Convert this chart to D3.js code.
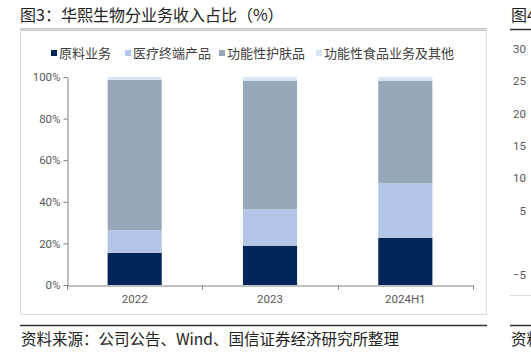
<!DOCTYPE html>
<html>
<head>
<meta charset="utf-8">
<script src="https://cdn.jsdelivr.net/npm/d3@7"></script>
<style>
  body { margin: 0; background: #fff; }
  svg { display: block; font-family: "Noto Sans CJK SC", "Noto Sans", sans-serif; }
</style>
</head>
<body>
<svg id="chart" width="531" height="352"></svg>
<script>
// dados
const categorias = ["2022", "2023", "2024H1"];
const series = ["原料业务", "医疗终端产品", "功能性护肤品", "功能性食品业务及其他"];
const rawMaterial = [15.5, 18.9, 22.7];
const medical = [10.8, 17.6, 26.3];
const skincare = [72.3, 61.7, 49.2];
const food = [1.4, 1.8, 1.8];
const yTicks = [0, 20, 40, 60, 80, 100];
const rightTicks = [30, 25, 20, 15, 10, 5, -5];

const cores = ["#03265a", "#b4c6e7", "#97a8b9", "#dae5f3"];

const svg = d3.select("#chart");

const rows = categorias.map((c, i) => ({
  cat: c,
  [series[0]]: rawMaterial[i],
  [series[1]]: medical[i],
  [series[2]]: skincare[i],
  [series[3]]: food[i]
}));

// titulo e linhas de moldura
svg.append("text")
  .attr("x", 20).attr("y", 21)
  .attr("font-size", 16).attr("fill", "#222")
  .text("图3：华熙生物分业务收入占比（%）");

svg.append("line").attr("x1", 20).attr("x2", 487).attr("y1", 29.5).attr("y2", 29.5)
  .attr("stroke", "#333").attr("stroke-width", 1.5);

svg.append("rect").attr("x", 20.5).attr("y", 29.5).attr("width", 466).attr("height", 285)
  .attr("fill", "none").attr("stroke", "#d9d9d9");

svg.append("line").attr("x1", 20).attr("x2", 487).attr("y1", 325.5).attr("y2", 325.5)
  .attr("stroke", "#333").attr("stroke-width", 1.5);

svg.append("text")
  .attr("x", 21).attr("y", 345)
  .attr("font-size", 15.5).attr("fill", "#222")
  .text("资料来源：公司公告、Wind、国信证券经济研究所整理");

// escalas
const x = d3.scaleBand().domain(categorias).range([67, 473]).paddingInner(0.6).paddingOuter(0.3);
const y = d3.scaleLinear().domain([0, 100]).range([285, 77]);

const stack = d3.stack().keys(series);
const stacked = stack(rows);

svg.append("g").selectAll("g")
  .data(stacked)
  .enter().append("g")
  .attr("fill", (d, i) => cores[i])
  .selectAll("rect")
  .data(d => d)
  .enter().append("rect")
  .attr("x", d => x(d.data.cat))
  .attr("width", x.bandwidth())
  .attr("y", d => y(d[1]))
  .attr("height", d => y(d[0]) - y(d[1]));

// eixo Y
const yAxis = svg.append("g")
  .attr("transform", "translate(67.5,0)")
  .call(d3.axisLeft(y).tickValues(yTicks).tickFormat(d => d + "%").tickSize(4).tickSizeOuter(0));
yAxis.select(".domain").attr("stroke", "#808080");
yAxis.selectAll(".tick line").attr("stroke", "#808080");
yAxis.selectAll(".tick text").attr("fill", "#595959").attr("font-size", 11.5)
  .attr("font-family", "Roboto, 'Noto Sans', sans-serif").attr("x", -7);

// eixo X
const xAxis = svg.append("g")
  .attr("transform", "translate(0,285.5)")
  .call(d3.axisBottom(x).tickSize(0).tickSizeOuter(0));
xAxis.select(".domain").attr("stroke", "#808080");
xAxis.selectAll(".tick text").attr("fill", "#595959").attr("font-size", 11.5)
  .attr("font-family", "Roboto, 'Noto Sans', sans-serif").attr("dy", "1.25em");
const fronteiras = d3.range(categorias.length + 1).map(i => x.range()[0] + i * x.step());
xAxis.selectAll(".sep").data(fronteiras).enter().append("line")
  .attr("x1", d => Math.round(d) + 0.5).attr("x2", d => Math.round(d) + 0.5)
  .attr("y1", 0).attr("y2", 4).attr("stroke", "#808080");

// legenda
const legendX = [51, 125, 219, 316];
const legenda = svg.append("g").selectAll("g")
  .data(series).enter().append("g")
  .attr("transform", (d, i) => `translate(${legendX[i]},53)`);
legenda.append("rect").attr("x", 0).attr("y", -3).attr("width", 6).attr("height", 6)
  .attr("fill", (d, i) => cores[i]);
legenda.append("text").attr("x", 8).attr("dy", "0.36em")
  .attr("font-size", 13).attr("fill", "#404040").text(d => d);

// painel vizinho (图4), cortado como na referência
svg.append("text").attr("x", 511).attr("y", 21).attr("font-size", 16).attr("fill", "#222").text("图4");
svg.append("line").attr("x1", 510).attr("x2", 531).attr("y1", 29.5).attr("y2", 29.5)
  .attr("stroke", "#333").attr("stroke-width", 1.5);
svg.append("line").attr("x1", 510).attr("x2", 531).attr("y1", 325.5).attr("y2", 325.5)
  .attr("stroke", "#333").attr("stroke-width", 1.5);
svg.append("line").attr("x1", 510).attr("x2", 531).attr("y1", 295.5).attr("y2", 295.5)
  .attr("stroke", "#d9d9d9");
svg.append("text").attr("x", 511).attr("y", 345).attr("font-size", 15.5).attr("fill", "#222").text("资料");
const yR = d3.scaleLinear().domain([-5, 30]).range([275, 49]);
svg.append("g").selectAll("text").data(rightTicks).enter().append("text")
  .attr("x", 526).attr("y", d => yR(d)).attr("dy", "0.36em")
  .attr("text-anchor", "end").attr("font-size", 11.5).attr("fill", "#595959")
  .attr("font-family", "Roboto, 'Noto Sans', sans-serif")
  .text(d => d < 0 ? "\u2212" + Math.abs(d) : d);
</script>
</body>
</html>
